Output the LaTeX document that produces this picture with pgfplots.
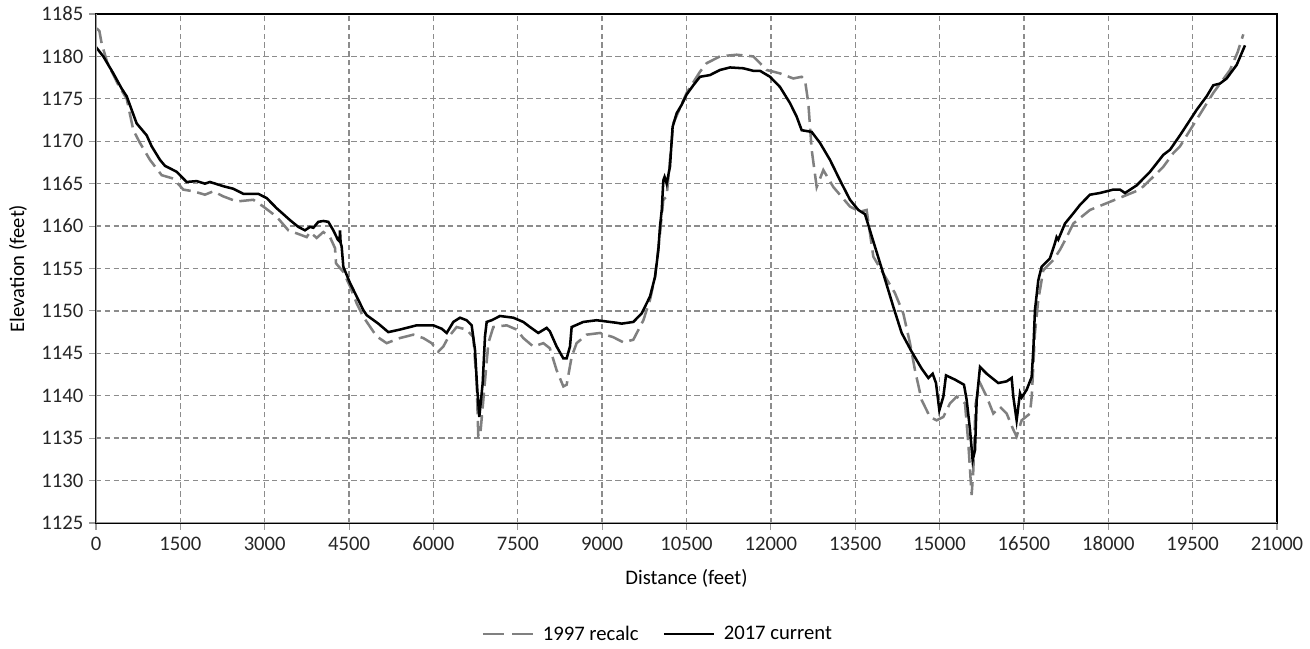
\documentclass[border=0pt]{standalone}
\usepackage{pgfplots}
\pgfplotsset{compat=1.18}
\usepackage{fontspec}
\setmainfont{Carlito}
\definecolor{gridgray}{HTML}{8C8C8C}
\definecolor{axgray}{HTML}{9A9A9A}
\definecolor{oldgray}{HTML}{808080}
\begin{document}
\begin{tikzpicture}
\useasboundingbox (-72pt,-94.5pt) rectangle (910.5pt,392.25pt);
\begin{axis}[
  at={(0,0)}, anchor=south west,
  scale only axis,
  width=885.75pt, height=381.75pt,
  xmin=0, xmax=21000, ymin=1125, ymax=1185,
  xtick={0,1500,3000,4500,6000,7500,9000,10500,12000,13500,15000,16500,18000,19500,21000},
  xticklabels={0,1500,3000,4500,6000,7500,9000,10500,12000,13500,15000,16500,18000,19500,21000},
  ytick={1125,1130,1135,1140,1145,1150,1155,1160,1165,1170,1175,1180,1185},
  yticklabels={1125,1130,1135,1140,1145,1150,1155,1160,1165,1170,1175,1180,1185},
  scaled ticks=false,
  font=\fontsize{15.5pt}{18pt}\selectfont,
  tick label style={font=\fontsize{15.5pt}{18pt}\selectfont, text=black!85},
  xticklabel style={anchor=north, yshift=-2pt, text height=10pt, text depth=0pt},
  yticklabel style={anchor=east, xshift=-1pt},
  grid=major,
  major grid style={gridgray, line width=1pt, dash pattern=on 4pt off 2.6pt},
  axis line style={black, line width=1.1pt},
  tick align=outside,
  tick style={axgray, line width=0.8pt},
  major tick length=5pt,
  xtick pos=bottom, ytick pos=left,
  xlabel={Distance (feet)},
  ylabel={Elevation (feet)},
  xlabel style={at={(axis description cs:0.5,-0.108)}, anchor=center},
  ylabel style={at={(axis description cs:-0.066,0.5)}, anchor=center, rotate=0},
  legend columns=2,
  legend style={at={(0.476,-0.218)}, anchor=center, draw=none, fill=none,
    font=\fontsize{15.5pt}{18pt}\selectfont,
    /tikz/every even column/.append style={column sep=16pt}},
  legend image code/.code={\draw[#1] (0pt,0pt) -- (37.5pt,0pt); \path (42pt,0pt);},
]
\addlegendimage{oldgray, line width=1.9pt, dash pattern=on 15.5pt off 6.5pt}
\addlegendentry{1997 recalc}
\addlegendimage{black, line width=1.9pt}
\addlegendentry{2017 current}
\addplot[forget plot, oldgray, line width=1.9pt, dash pattern=on 12pt off 5pt] coordinates {
(12,1183.3) (60,1183.0) (101,1181.5) (200,1179.3) (400,1176.6) (546,1175.0)
(664,1171.3) (782,1169.8) (960,1167.8) (1168,1166.0) (1375,1165.6) (1553,1164.3)
(1730,1164.1) (1938,1163.7) (2086,1164.1) (2264,1163.5) (2501,1162.9) (2797,1163.1)
(2975,1162.3) (3213,1161.1) (3420,1159.5) (3627,1159.0) (3746,1158.7) (3805,1159.3)
(3924,1158.6) (4042,1159.3) (4161,1158.7) (4250,1157.4) (4268,1155.6) (4398,1154.6)
(4516,1152.9) (4635,1150.9) (4753,1149.3) (4990,1147.0) (5168,1146.2) (5405,1146.8)
(5642,1147.2) (5820,1146.8) (5968,1146.2) (6087,1145.2) (6176,1145.8) (6265,1146.9)
(6413,1148.1) (6591,1147.8) (6709,1146.9) (6769,1141.5) (6798,1135.2) (6830,1135.2)
(6976,1146.2) (7065,1148.1) (7302,1148.3) (7480,1147.8) (7598,1146.8) (7776,1145.8)
(7954,1146.2) (8070,1145.6) (8191,1143.0) (8310,1141.1) (8369,1141.3) (8458,1144.6)
(8546,1146.2) (8724,1147.2) (8961,1147.4) (9198,1146.9) (9377,1146.3) (9554,1146.6)
(9733,1148.9) (9851,1151.3) (9940,1154.0) (10028,1159.1) (10088,1163.1) (10147,1163.5)
(10265,1172.1) (10502,1175.7) (10740,1178.2) (10858,1179.2) (11095,1180.0) (11391,1180.2)
(11688,1180.0) (11807,1179.2) (11925,1178.4) (12162,1178.0) (12399,1177.4) (12548,1177.6)
(12607,1177.2) (12666,1174.5) (12726,1169.0) (12815,1164.6) (12933,1166.6) (13111,1164.6)
(13407,1162.3) (13585,1161.7) (13703,1161.9) (13822,1156.4) (13999,1154.4) (14207,1152.1)
(14355,1149.7) (14474,1146.2) (14563,1143.0) (14681,1139.5) (14829,1137.5) (14948,1137.1)
(15067,1137.5) (15185,1139.1) (15304,1139.9) (15452,1139.1) (15511,1134.4) (15570,1128.3)
(15600,1131.2) (15640,1139.0) (15719,1141.5) (15837,1139.9) (15956,1137.9) (16074,1138.7)
(16193,1137.9) (16311,1136.0) (16370,1135.2) (16459,1137.1) (16607,1137.9) (16640,1140.0)
(16696,1147.4) (16755,1151.3) (16845,1154.8) (17022,1156.0) (17141,1157.2) (17260,1158.7)
(17378,1160.3) (17674,1161.9) (17971,1162.7) (18267,1163.5) (18564,1164.3) (18860,1166.2)
(18979,1167.0) (19156,1168.6) (19275,1169.4) (19500,1171.8) (19867,1175.7) (20165,1178.4)
(20300,1180.5) (20401,1182.6)
};
\addplot[forget plot, black, line width=1.9pt] coordinates {
(0,1181.1) (130,1180.0) (308,1178.0) (457,1176.2) (546,1175.3) (634,1173.7)
(723,1172.1) (901,1170.7) (990,1169.4) (1138,1167.8) (1227,1167.1) (1434,1166.4)
(1612,1165.2) (1790,1165.3) (1938,1165.0) (2027,1165.2) (2264,1164.7) (2442,1164.4)
(2620,1163.8) (2886,1163.8) (3035,1163.3) (3213,1162.1) (3450,1160.7) (3598,1159.9)
(3716,1159.5) (3805,1159.9) (3865,1159.8) (3953,1160.5) (4042,1160.6) (4131,1160.5)
(4220,1159.5) (4300,1158.4) (4330,1158.2) (4339,1159.5) (4350,1158.0) (4368,1157.6)
(4398,1155.2) (4516,1153.3) (4635,1151.7) (4753,1150.1) (4813,1149.5) (5020,1148.5)
(5198,1147.5) (5405,1147.8) (5701,1148.3) (5998,1148.3) (6147,1147.9) (6236,1147.4)
(6354,1148.7) (6472,1149.2) (6591,1148.9) (6680,1148.3) (6739,1145.4) (6780,1140.7)
(6816,1137.5) (6876,1141.5) (6917,1147.0) (6947,1148.7) (7036,1148.9) (7184,1149.4)
(7420,1149.2) (7598,1148.7) (7717,1148.1) (7865,1147.4) (8013,1148.0) (8070,1147.6)
(8191,1145.8) (8310,1144.4) (8369,1144.4) (8428,1145.8) (8458,1148.1) (8665,1148.7)
(8902,1148.9) (9258,1148.6) (9347,1148.5) (9554,1148.7) (9703,1149.7) (9851,1151.7)
(9940,1154.0) (10000,1157.2) (10028,1159.9) (10060,1161.9) (10088,1165.4) (10110,1165.8)
(10147,1165.0) (10206,1167.0) (10253,1171.7) (10325,1173.3) (10414,1174.3) (10502,1175.5)
(10621,1176.6) (10740,1177.6) (10917,1177.8) (11095,1178.4) (11273,1178.7) (11510,1178.6)
(11688,1178.3) (11807,1178.3) (11985,1177.6) (12162,1176.4) (12340,1174.5) (12459,1172.9)
(12548,1171.3) (12726,1171.1) (12874,1169.8) (13052,1167.8) (13229,1165.4) (13407,1163.1)
(13555,1161.9) (13674,1161.4) (13822,1158.2) (13999,1154.4) (14177,1150.5) (14326,1147.4)
(14503,1145.2) (14681,1143.2) (14800,1142.1) (14877,1142.6) (14936,1141.5) (14996,1138.3)
(15067,1139.9) (15114,1142.4) (15274,1141.9) (15434,1141.3) (15482,1139.5) (15541,1136.0)
(15588,1132.4) (15630,1133.6) (15660,1139.5) (15719,1143.4) (15837,1142.6) (16044,1141.5)
(16193,1141.7) (16282,1142.1) (16311,1139.9) (16370,1137.1) (16430,1140.3) (16460,1139.8)
(16548,1140.7) (16637,1142.2) (16667,1145.4) (16696,1150.1) (16755,1153.6) (16815,1155.2)
(16963,1156.2) (17052,1158.0) (17081,1158.7) (17110,1158.4) (17230,1160.3) (17378,1161.5)
(17497,1162.5) (17674,1163.7) (17852,1163.9) (18089,1164.3) (18208,1164.3) (18297,1163.9)
(18505,1164.8) (18742,1166.4) (18979,1168.4) (19098,1169.0) (19275,1170.7) (19453,1172.5)
(19571,1173.7) (19749,1175.3) (19867,1176.6) (19986,1176.8) (20105,1177.4) (20283,1179.0)
(20431,1181.3)
};
\draw[axgray, line width=1.3pt] (rel axis cs:0,1) -- (rel axis cs:0,0) -- (rel axis cs:1,0);
\end{axis}
\end{tikzpicture}
\end{document}
